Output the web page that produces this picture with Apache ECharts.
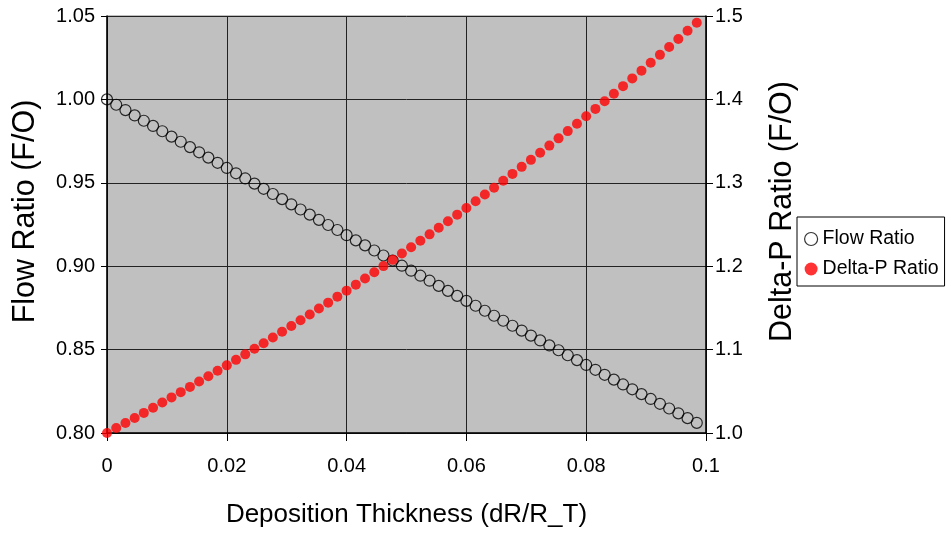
<!DOCTYPE html>
<html>
<head>
<meta charset="utf-8">
<script src="https://cdn.jsdelivr.net/npm/echarts@6/dist/echarts.min.js"></script>
<style>
html,body{margin:0;padding:0;background:#fff;}
#chart{width:948px;height:536px;}
</style>
</head>
<body>
<div id="chart"></div>
<script>
const xValues = [0,0.00154,0.00308,0.00462,0.00615,0.00769,0.00923,0.01077,0.01231,0.01385,0.01538,0.01692,0.01846,0.02,0.02154,0.02308,0.02462,0.02615,0.02769,0.02923,0.03077,0.03231,0.03385,0.03538,0.03692,0.03846,0.04,0.04154,0.04308,0.04462,0.04615,0.04769,0.04923,0.05077,0.05231,0.05385,0.05538,0.05692,0.05846,0.06,0.06154,0.06308,0.06462,0.06615,0.06769,0.06923,0.07077,0.07231,0.07385,0.07538,0.07692,0.07846,0.08,0.08154,0.08308,0.08462,0.08615,0.08769,0.08923,0.09077,0.09231,0.09385,0.09538,0.09692,0.09846];
const flowRatio = [1.0000,0.9968,0.9936,0.9904,0.9872,0.9841,0.9809,0.9777,0.9746,0.9714,0.9683,0.9651,0.9620,0.9589,0.9557,0.9526,0.9495,0.9464,0.9433,0.9402,0.9371,0.9340,0.9309,0.9278,0.9247,0.9217,0.9186,0.9155,0.9125,0.9094,0.9064,0.9034,0.9003,0.8973,0.8943,0.8913,0.8882,0.8852,0.8822,0.8792,0.8763,0.8733,0.8703,0.8673,0.8643,0.8614,0.8584,0.8555,0.8525,0.8496,0.8466,0.8437,0.8408,0.8379,0.8349,0.8320,0.8291,0.8262,0.8233,0.8204,0.8175,0.8147,0.8118,0.8089,0.8061];
const deltaPRatio = [1.0000,1.0060,1.0120,1.0180,1.0241,1.0303,1.0365,1.0427,1.0490,1.0553,1.0617,1.0681,1.0746,1.0811,1.0877,1.0943,1.1010,1.1077,1.1145,1.1213,1.1282,1.1352,1.1421,1.1492,1.1563,1.1635,1.1707,1.1779,1.1853,1.1927,1.2001,1.2076,1.2152,1.2228,1.2305,1.2382,1.2460,1.2539,1.2618,1.2698,1.2778,1.2860,1.2941,1.3024,1.3107,1.3191,1.3275,1.3360,1.3446,1.3533,1.3620,1.3708,1.3797,1.3886,1.3977,1.4067,1.4159,1.4252,1.4345,1.4439,1.4534,1.4629,1.4725,1.4823,1.4920];
const xTickLabels = ['0','0.02','0.04','0.06','0.08','0.1'];
const leftTickLabels = ['0.80','0.85','0.90','0.95','1.00','1.05'];
const rightTickLabels = ['1.0','1.1','1.2','1.3','1.4','1.5'];
const seriesNames = ['Flow Ratio','Delta-P Ratio'];

const FONT = 'Liberation Sans, Arial, sans-serif';
const chart = echarts.init(document.getElementById('chart'), null, {renderer:'canvas'});
const flowData = xValues.map((x,i)=>[x, flowRatio[i]]);
const dpData = xValues.map((x,i)=>[x, deltaPRatio[i]]);

chart.setOption({
  animation:false,
  backgroundColor:'#fff',
  grid:{left:107, top:16, width:599, height:417, show:true, backgroundColor:'#c0c0c0', borderColor:'#808080', borderWidth:1},
  legend:{
    orient:'vertical', left:797, top:217,
    backgroundColor:'#fff', borderColor:'#000', borderWidth:1,
    padding:[12,6,7,7], itemGap:10, itemWidth:13, itemHeight:13,
    textStyle:{fontFamily:FONT, fontSize:19.5, color:'#000', lineHeight:20},
    data:[
      {name:seriesNames[0], icon:'circle', itemStyle:{color:'#fff', borderColor:'#000', borderWidth:1.2}},
      {name:seriesNames[1], icon:'circle', itemStyle:{color:'#ff0000', borderWidth:0}}
    ]
  },
  xAxis:{
    type:'value', min:0, max:0.1, interval:0.02,
    name:'Deposition Thickness (dR/R_T)', nameLocation:'middle', nameGap:69,
    nameTextStyle:{fontFamily:FONT, fontSize:26, color:'#000'},
    axisLine:{show:true, onZero:false, lineStyle:{color:'#000', width:1.5}},
    axisTick:{show:true, length:8, lineStyle:{color:'#000'}},
    axisLabel:{fontFamily:FONT, fontSize:20, color:'#000', margin:23,
      formatter:(v)=>xTickLabels[Math.round(v/0.02)]},
    splitLine:{show:true, lineStyle:{color:'#222', width:1}}
  },
  yAxis:[{
    type:'value', min:0.8, max:1.05, interval:0.05, position:'left',
    name:'Flow Ratio (F/O)', nameLocation:'middle', nameGap:66, nameRotate:90,
    nameTextStyle:{fontFamily:FONT, fontSize:30.5, color:'#000', padding:[0,0,0,26]},
    axisLine:{show:true, lineStyle:{color:'#000', width:1.5}},
    axisTick:{show:true, length:6, lineStyle:{color:'#000'}},
    axisLabel:{fontFamily:FONT, fontSize:20, color:'#000', margin:12,
      formatter:(v)=>leftTickLabels[Math.round((v-0.8)/0.05)]},
    splitLine:{show:true, lineStyle:{color:'#222', width:1}}
  },{
    type:'value', min:1.0, max:1.5, interval:0.1, position:'right',
    name:'Delta-P Ratio (F/O)', nameLocation:'middle', nameGap:61, nameRotate:90,
    nameTextStyle:{fontFamily:FONT, fontSize:30.5, color:'#000', padding:[0,0,0,26]},
    axisLine:{show:true, lineStyle:{color:'#000', width:1.5}},
    axisTick:{show:true, length:7, lineStyle:{color:'#000'}},
    axisLabel:{fontFamily:FONT, fontSize:20, color:'#000', margin:9,
      formatter:(v)=>rightTickLabels[Math.round((v-1.0)/0.1)]},
    splitLine:{show:false}
  }],
  series:[{
    name:seriesNames[0], type:'scatter', yAxisIndex:0, data:flowData,
    symbol:'circle', symbolSize:11, clip:false,
    itemStyle:{color:'rgba(0,0,0,0)', borderColor:'#000', borderWidth:1.2},
    emphasis:{disabled:true}
  },{
    name:seriesNames[1], type:'scatter', yAxisIndex:1, data:dpData,
    symbol:'circle', symbolSize:10, clip:false,
    itemStyle:{color:'#ff0000'},
    emphasis:{disabled:true}
  }]
});
</script>
</body>
</html>
